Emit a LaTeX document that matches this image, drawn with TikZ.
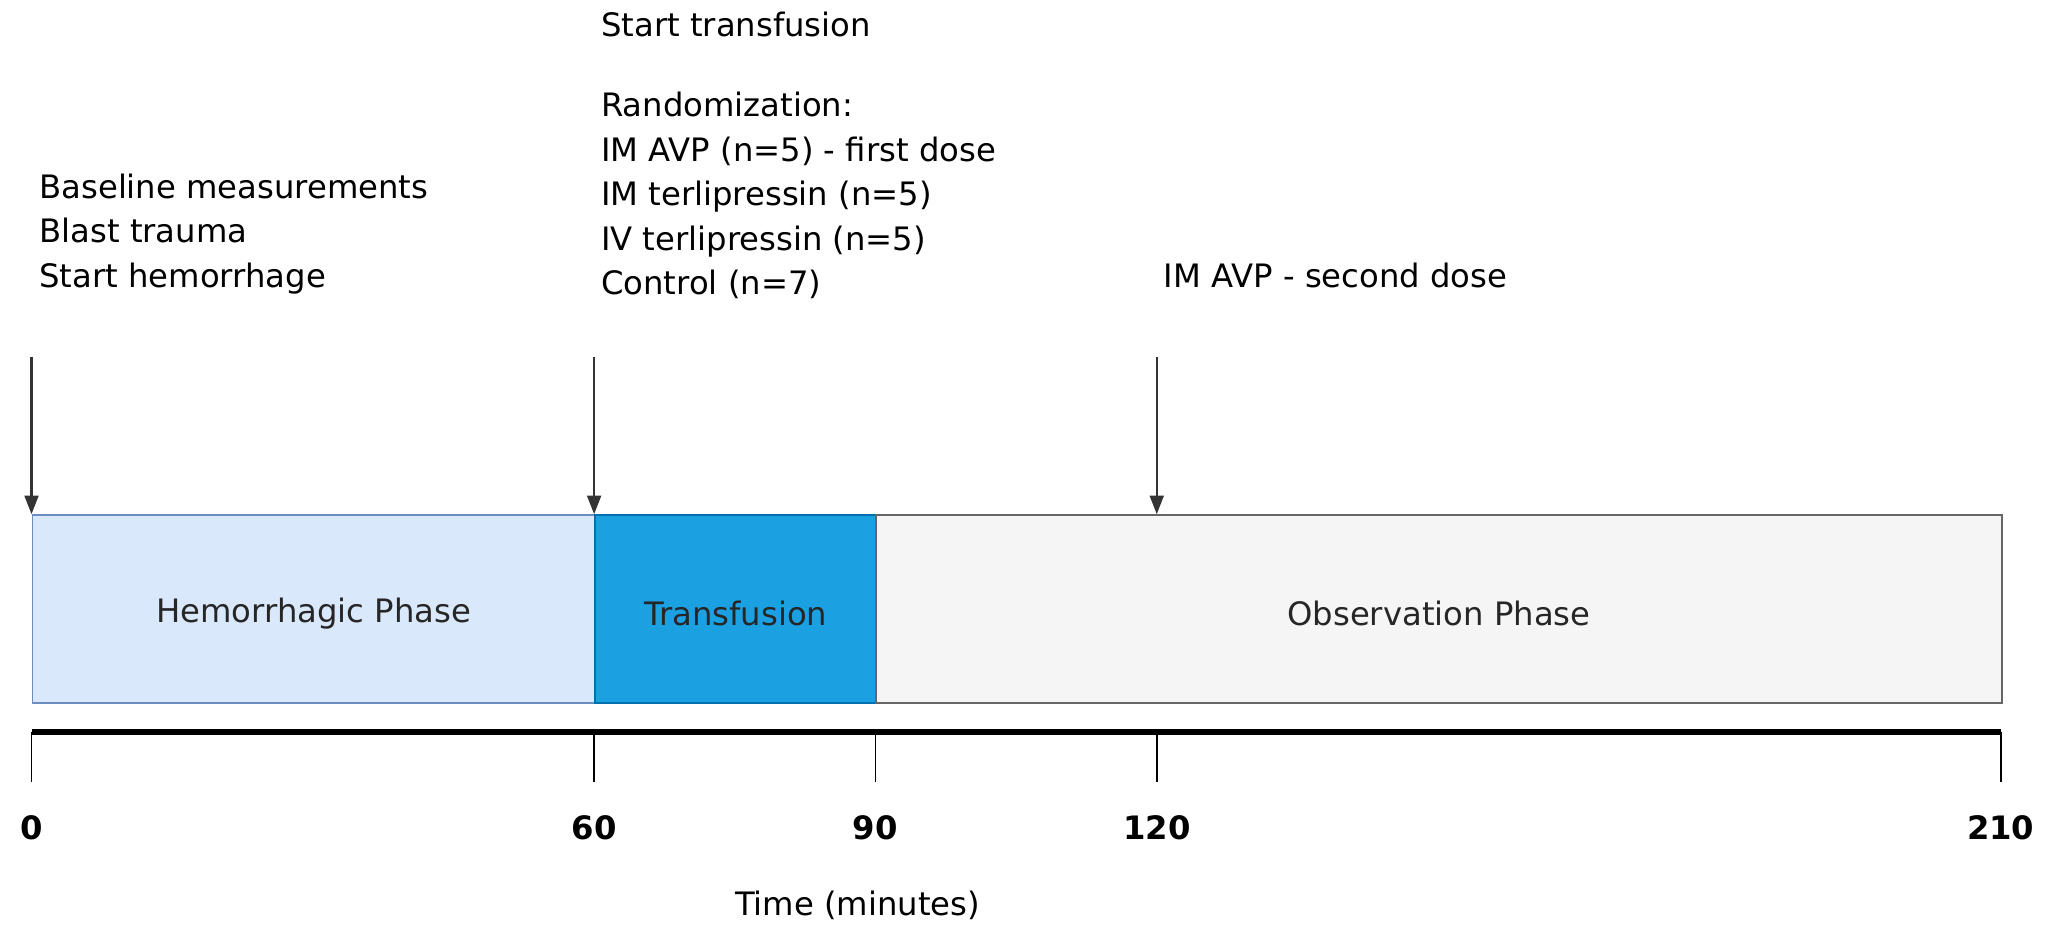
\documentclass[tikz,border=0pt]{standalone}
\usepackage{fontspec}
\setmainfont{DejaVu Sans}
\usetikzlibrary{arrows.meta}
\definecolor{hemfill}{HTML}{DAE8FC}
\definecolor{hemdraw}{HTML}{6C8EBF}
\definecolor{trfill}{HTML}{1BA1E2}
\definecolor{trdraw}{HTML}{006EAF}
\definecolor{obsfill}{HTML}{F5F5F5}
\definecolor{obsdraw}{HTML}{666666}
\tikzstyle{phase}=[
        draw,
        line width=0.8pt,
        minimum height=2.86cm,
        inner sep=0pt,
        anchor=north west
]
\tikzstyle{event}=[
        anchor=north west,
        align=left,
        inner sep=0pt,
        font=\fontsize{14pt}{19.3pt}\selectfont
]
\tikzstyle{marker}=[
        -{Triangle[length=8pt,width=6pt]},
        line width=0.9pt,
        draw=black!80
]
\begin{document}
\begin{tikzpicture}[x=0.143cm,y=-0.02cm]
                    \useasboundingbox (-3.36,0) rectangle (215.9,715);

                    \node[phase,fill=hemfill,draw=hemdraw,minimum width=60*0.143cm] (hem) at (0,392) {};
                    \node[phase,fill=trfill,draw=trdraw,minimum width=30*0.143cm] (tr) at (60,392) {};
                    \node[phase,fill=obsfill,draw=obsdraw,minimum width=120*0.143cm] (obs) at (90,392) {};
                    \node[font=\fontsize{14pt}{16pt}\selectfont,text=black!85] at ([yshift=-2pt]hem.center) {Hemorrhagic Phase};
                    \node[font=\fontsize{14pt}{16pt}\selectfont,text=black!85] at ([yshift=-2pt]tr.center) {Transfusion};
                    \node[font=\fontsize{14pt}{16pt}\selectfont,text=black!85] at ([yshift=-2pt]obs.center) {Observation Phase};

                    \draw[line width=2.4pt] (0,558) -- (210,558);
                    \foreach \t in {0,60,90,120,210} {
                        \draw[line width=0.8pt] (\t,558) -- (\t,596);
                        \node[font=\fontsize{14pt}{16pt}\selectfont\bfseries] (tick\t) at (\t,631) {\t};
                    }
                    \node[font=\fontsize{14pt}{16pt}\selectfont] (timelabel) at (88.1,690) {Time (minutes)};

                    \node[event] (ev0) at (0.8,132) {Baseline measurements\\Blast trauma\\Start hemorrhage};
                    \node[event] (ev60) at (60.7,9) {Start transfusion\\[15.5pt]Randomization:\\IM AVP (n=5) - first dose\\IM terlipressin (n=5)\\IV terlipressin (n=5)\\Control (n=7)};
                    \node[event] (ev120) at (120.7,200) {IM AVP - second dose};

                    \coordinate (a0) at (0,272);
                    \coordinate (a60) at (60,272);
                    \coordinate (a120) at (120,272);
                    \draw[marker] (a0) -- (hem.north west);
                    \draw[marker] (a60) -- (tr.north west);
                    \draw[marker] (a120) -- (obs.north west -| a120);
                \end{tikzpicture}
\end{document}
